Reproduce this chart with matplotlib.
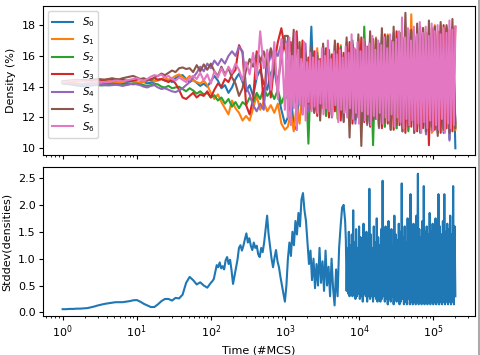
import matplotlib.pyplot as plt
import numpy as np

OUTPUT_FILE = 'out.png'

# Time grid bounds (#MCS): smooth early part, dense oscillating late part
T_START, T_MID, T_SPLIT, T_DENSE, T_END = 1, 100, 1000, 6500, 2e5

LABELS = ['$S_0$', '$S_1$', '$S_2$', '$S_3$', '$S_4$', '$S_5$', '$S_6$']

S0_EARLY = [
    14.3, 14.25, 14.2, 14.12, 14.08, 14.05, 14.04, 14.05, 14.07, 14.1,
    14.12, 14.15, 14.18, 14.2, 14.22, 14.2, 14.18, 14.22, 14.25, 14.2,
    14.15, 14.2, 14.28, 14.3, 14.22, 14.25, 14.35, 14.45, 14.5, 14.4,
    14.45, 14.3, 14.55, 14.7, 14.75, 14.5, 14.3, 14.45, 14.25, 14.05,
    14.2, 14.0, 14.35, 14.7, 14.4, 13.9, 14.1, 13.6, 13.95, 14.5,
    14.85, 14.3, 13.7, 14.1, 13.4, 14.6, 15.1, 14.2, 13.8, 14.9,
    15.2, 13.6, 12.5, 11.6,
]
S0_LATE = [
    12.0, 13.5, 11.5, 11.2, 14.5, 12.8, 15.6, 13.0, 17.9, 12.5,
    15.8, 12.9, 16.0, 12.6, 15.5, 12.4, 16.1, 12.8, 15.7, 12.2,
    16.4, 12.0, 15.9, 11.8, 16.6, 12.3, 16.2, 11.7, 16.9, 12.1,
    16.5, 11.5, 17.0, 12.0, 16.7, 11.4, 17.3, 11.8, 16.9, 11.3,
    17.2, 11.6, 17.5, 11.2, 17.0, 11.5, 17.6, 11.0, 17.3, 11.4,
    17.7, 11.2, 17.4, 11.0, 17.8, 10.6, 17.6, 10.0,
]

S1_EARLY = [
    14.3, 14.3, 14.28, 14.25, 14.22, 14.2, 14.18, 14.2, 14.22, 14.25,
    14.28, 14.3, 14.32, 14.35, 14.3, 14.28, 14.25, 14.3, 14.35, 14.4,
    14.35, 14.3, 14.25, 14.3, 14.4, 14.45, 14.35, 14.4, 14.5, 14.6,
    14.45, 14.55, 14.7, 14.8, 14.6, 14.45, 14.7, 14.4, 14.3, 14.2,
    14.4, 14.1, 13.6, 13.2, 13.5, 13.0, 12.6, 12.2, 13.1, 12.6,
    12.3, 11.8, 12.1, 11.8, 12.6, 13.4, 12.5, 13.0, 12.4, 12.8,
    12.3, 12.9, 11.6, 11.2,
]
S1_LATE = [
    11.4, 12.3, 11.1, 12.8, 11.6, 14.2, 16.3, 12.9, 15.8, 12.3,
    16.5, 12.7, 15.9, 12.1, 16.2, 12.6, 16.0, 11.9, 16.7, 12.4,
    16.1, 11.8, 16.8, 12.2, 16.4, 11.6, 17.1, 12.0, 16.6, 11.7,
    17.2, 11.9, 16.8, 11.4, 17.4, 11.8, 17.0, 11.3, 17.5, 11.6,
    17.1, 11.2, 18.7, 11.5, 17.3, 11.1, 17.8, 11.4, 17.5, 11.0,
    18.0, 11.3, 17.6, 11.1, 17.9, 11.4, 17.7, 11.2,
]

S2_EARLY = [
    14.2, 14.18, 14.15, 14.12, 14.1, 14.1, 14.12, 14.15, 14.15, 14.12,
    14.1, 14.08, 14.1, 14.15, 14.2, 14.18, 14.15, 14.1, 14.12, 14.18,
    14.22, 14.2, 14.15, 14.1, 14.05, 14.1, 14.2, 14.15, 14.0, 13.95,
    14.05, 13.9, 13.95, 14.0, 13.85, 13.7, 13.9, 13.75, 13.55, 13.7,
    13.5, 13.6, 13.3, 13.45, 13.1, 13.3, 12.9, 13.2, 12.7, 13.0,
    12.6, 13.0, 12.8, 13.3, 13.0, 13.6, 13.2, 13.9, 13.4, 13.7,
    13.2, 13.8, 12.9, 13.5,
]
S2_LATE = [
    13.2, 12.6, 13.8, 12.9, 14.6, 12.2, 15.4, 10.3, 15.9, 12.4,
    16.2, 12.8, 15.6, 12.1, 16.4, 12.6, 15.8, 11.9, 16.6, 12.3,
    16.0, 11.7, 17.0, 12.2, 16.5, 11.5, 17.9, 11.8, 16.8, 10.2,
    17.1, 11.9, 16.7, 11.4, 17.3, 11.7, 17.0, 11.3, 17.5, 11.6,
    17.2, 11.1, 17.6, 11.5, 17.4, 11.0, 17.8, 11.4, 17.5, 11.2,
    17.9, 11.0, 17.6, 11.3, 17.8, 11.1, 17.5, 11.4,
]

S3_EARLY = [
    14.3, 14.32, 14.35, 14.38, 14.4, 14.42, 14.45, 14.42, 14.4, 14.38,
    14.4, 14.42, 14.45, 14.48, 14.45, 14.4, 14.42, 14.45, 14.4, 14.35,
    14.4, 14.45, 14.5, 14.45, 14.4, 14.5, 14.55, 14.45, 14.5, 14.4,
    14.3, 14.45, 14.2, 13.8, 13.3, 13.2, 13.4, 13.6, 13.3, 13.5,
    13.4, 13.7, 13.3, 13.8, 14.2, 14.0, 14.5, 14.3, 14.8, 15.1,
    16.7, 16.2, 12.8, 12.2, 13.2, 16.3, 15.8, 12.9, 16.2, 13.3,
    15.5, 16.9, 17.8, 16.5,
]
S3_LATE = [
    15.8, 16.9, 13.3, 17.6, 14.0, 17.0, 12.7, 15.9, 12.5, 16.3,
    12.1, 15.8, 12.6, 16.5, 12.0, 16.1, 12.4, 16.8, 11.8, 16.2,
    12.3, 16.9, 11.6, 16.4, 12.0, 17.2, 11.7, 16.6, 11.4, 17.1,
    11.9, 16.8, 11.3, 17.4, 11.6, 17.0, 11.2, 17.6, 11.5, 17.2,
    11.0, 17.7, 11.4, 17.3, 11.1, 17.9, 11.3, 17.5, 10.2, 17.8,
    11.2, 17.6, 11.0, 18.0, 11.3, 17.7, 11.1, 17.9,
]

S4_EARLY = [
    14.25, 14.22, 14.2, 14.18, 14.15, 14.12, 14.1, 14.12, 14.15, 14.18,
    14.15, 14.12, 14.1, 14.08, 14.1, 14.12, 14.1, 14.05, 14.1, 14.15,
    14.2, 14.15, 14.1, 14.0, 13.95, 14.05, 14.1, 13.95, 13.85, 13.9,
    13.8, 13.7, 13.65, 13.75, 13.9, 14.1, 14.3, 14.6, 14.9, 15.3,
    15.0, 15.5, 15.2, 15.7, 15.4, 15.8, 15.5, 16.0, 16.3, 16.0,
    16.6, 16.3, 14.0, 13.5, 12.8, 12.4, 12.9, 12.5, 15.3, 16.0,
    16.4, 16.0, 16.8, 17.1,
]
S4_LATE = [
    16.5, 13.8, 17.0, 12.6, 16.2, 13.2, 16.8, 12.4, 16.0, 12.8,
    15.9, 12.2, 16.6, 12.7, 16.1, 12.0, 16.7, 12.5, 16.3, 11.8,
    16.9, 12.3, 16.4, 11.6, 17.1, 12.1, 16.6, 11.5, 17.2, 11.9,
    16.8, 11.3, 17.4, 11.7, 17.0, 11.2, 17.5, 11.6, 17.1, 11.1,
    17.6, 11.4, 17.3, 11.0, 17.8, 11.3, 17.5, 10.9, 17.9, 11.2,
    17.6, 11.0, 18.0, 11.3, 17.7, 10.5, 17.9, 11.6,
]

S5_EARLY = [
    14.35, 14.38, 14.4, 14.42, 14.45, 14.42, 14.4, 14.42, 14.45, 14.48,
    14.5, 14.48, 14.45, 14.5, 14.55, 14.5, 14.48, 14.55, 14.6, 14.65,
    14.7, 14.6, 14.5, 14.55, 14.45, 14.4, 14.6, 14.7, 14.85, 14.75,
    14.9, 15.05, 14.95, 15.2, 15.25, 15.15, 15.2, 14.95, 15.4, 15.0,
    15.45, 15.1, 15.5, 15.0, 14.7, 15.3, 14.8, 15.2, 14.6, 14.2,
    13.4, 13.9, 15.1, 15.8, 15.3, 16.1, 15.6, 16.3, 15.4, 16.5,
    15.2, 14.3, 15.8, 17.3,
]
S5_LATE = [
    17.3, 14.5, 17.7, 13.0, 16.9, 12.5, 16.1, 12.9, 16.6, 12.3,
    16.0, 11.8, 16.8, 12.6, 16.3, 12.1, 17.0, 12.4, 16.5, 11.7,
    17.2, 10.7, 16.7, 11.9, 17.4, 10.15, 16.9, 11.6, 17.6, 11.8,
    17.1, 11.4, 17.8, 11.7, 17.3, 11.2, 17.9, 11.5, 17.5, 11.1,
    18.8, 11.4, 17.7, 11.0, 18.1, 11.3, 17.8, 11.1, 18.3, 11.4,
    17.9, 10.8, 18.2, 11.2, 18.0, 11.0, 18.4, 11.3,
]

S6_EARLY = [
    14.3, 14.32, 14.35, 14.38, 14.4, 14.38, 14.35, 14.33, 14.3, 14.32,
    14.35, 14.3, 14.28, 14.3, 14.35, 14.4, 14.38, 14.35, 14.4, 14.45,
    14.5, 14.55, 14.45, 14.4, 14.5, 14.65, 14.75, 14.7, 14.78, 14.6,
    14.7, 14.5, 14.4, 14.6, 14.45, 14.3, 14.55, 14.7, 14.5, 14.9,
    14.4, 14.8, 14.2, 15.0, 14.6, 15.2, 14.7, 15.3, 14.9, 15.5,
    15.1, 14.4, 15.6, 14.8, 16.2, 14.5, 17.6, 15.2, 16.4, 13.8,
    16.9, 13.2, 17.1, 12.5,
]
S6_LATE = [
    16.8, 12.0, 17.2, 11.5, 16.0, 12.6, 17.5, 11.2, 16.4, 12.8,
    15.8, 12.2, 16.9, 11.8, 15.6, 13.0, 16.2, 12.4, 15.9, 12.7,
    16.3, 12.3, 15.7, 12.9, 16.5, 12.2, 16.0, 12.6, 17.0, 12.4,
    15.8, 12.1, 16.3, 12.8, 16.1, 11.7, 16.4, 12.5, 15.9, 12.3,
    16.6, 12.0, 16.2, 12.6, 17.4, 11.9, 16.5, 12.3, 16.9, 11.6,
    16.3, 12.4, 17.1, 11.8, 16.6, 12.2, 16.8, 11.5, 17.3, 12.1,
    16.4, 11.9, 17.0, 12.3, 16.7, 11.6, 17.2, 12.0, 16.5, 11.8,
    17.4, 12.2, 16.9, 11.4, 17.1, 12.0, 17.6, 11.7, 18.5, 11.3,
    17.2, 11.9, 17.8, 11.5, 17.0, 11.8, 17.9, 11.2, 17.4, 11.6,
    18.2, 11.0, 17.5, 11.7, 17.9, 11.3, 17.3, 11.8, 18.1, 11.1,
    17.6, 11.5, 18.0, 11.2, 17.4, 11.9, 17.8, 11.0, 17.5, 11.6,
    18.3, 11.3, 17.7, 11.5, 17.9,
]

# stddev: 1..100, 100..1000, 1000..6500, 6500..2e5 (densest)
STDDEV_EARLY = [
    0.06, 0.06, 0.065, 0.065, 0.07, 0.07, 0.075, 0.08, 0.095, 0.11,
    0.13, 0.145, 0.16, 0.17, 0.18, 0.19, 0.19, 0.19, 0.2, 0.21,
    0.225, 0.23, 0.2, 0.16, 0.13, 0.1, 0.1, 0.15, 0.21, 0.25,
    0.25, 0.22, 0.27, 0.26, 0.33, 0.55, 0.66, 0.6, 0.52, 0.56,
    0.5, 0.46, 0.55,
]
STDDEV_MID = [
    0.58, 0.62, 0.75, 0.88, 0.84, 0.93, 0.82, 0.86, 0.8, 0.97,
    1.03, 0.9, 0.98, 0.78, 0.53, 0.68, 0.84, 0.98, 1.2, 1.25,
    1.15, 1.24, 1.36, 1.47, 1.3, 1.38, 1.24, 1.16, 1.3, 1.2,
    1.24, 1.08, 1.03, 1.2, 1.12, 1.3, 1.55, 1.8, 1.45, 1.22,
    1.0, 0.84, 1.02, 1.16, 0.95, 0.84, 0.66, 0.5, 0.35, 0.2,
]
STDDEV_LATE = [
    0.5, 1.0, 1.3, 1.05, 1.5, 1.25, 1.7, 1.45, 1.85, 1.6,
    2.1, 2.22, 1.9, 1.7, 1.3, 0.9, 1.15, 0.6, 1.0, 0.45,
    0.9, 0.5, 1.2, 0.55, 0.95, 0.4, 1.15, 0.5, 0.85, 0.3,
    1.0, 0.45, 0.13, 0.8, 0.3, 1.2, 1.6, 1.95, 2.0, 1.7,
]
STDDEV_DENSE = [
    1.35, 0.4, 1.2, 0.35, 1.5, 0.3, 1.25, 0.4, 1.45, 0.3,
    1.9, 0.35, 1.3, 0.25, 1.55, 0.3, 1.2, 0.35, 1.6, 0.25,
    1.4, 0.3, 1.3, 0.2, 1.65, 0.35, 1.25, 0.3, 1.5, 0.2,
    1.35, 0.3, 2.3, 0.25, 1.45, 0.3, 1.2, 0.2, 1.6, 0.3,
    1.3, 0.25, 1.75, 0.2, 1.4, 0.3, 1.25, 0.2, 1.55, 0.25,
    2.45, 0.3, 1.35, 0.2, 1.6, 0.25, 1.3, 0.15, 1.7, 0.25,
    1.4, 0.2, 1.55, 0.3, 1.25, 0.15, 1.8, 0.25, 1.45, 0.2,
    1.35, 0.25, 1.65, 0.15, 1.5, 0.2, 2.4, 0.25, 1.4, 0.15,
    1.6, 0.2, 1.3, 0.15, 1.75, 0.25, 1.45, 0.15, 2.2, 0.2,
    1.5, 0.15, 1.65, 0.2, 1.35, 0.15, 1.8, 0.2, 2.58, 0.15,
    1.55, 0.2, 1.4, 0.15, 1.7, 0.2, 2.35, 0.15, 1.5, 0.2,
    1.6, 0.15, 1.45, 0.2, 1.85, 0.15, 1.5, 0.2, 1.65, 0.15,
    1.4, 0.2, 1.75, 0.15, 1.55, 0.2, 2.2, 0.15, 1.6, 0.2,
    1.45, 0.15, 1.7, 0.2, 2.2, 0.15, 1.5, 0.2, 1.65, 0.15,
    1.55, 0.2, 1.8, 0.15, 1.45, 0.2, 2.35, 0.15, 1.6, 0.3,
]

SERIES = [
    (S0_EARLY, S0_LATE), (S1_EARLY, S1_LATE), (S2_EARLY, S2_LATE),
    (S3_EARLY, S3_LATE), (S4_EARLY, S4_LATE), (S5_EARLY, S5_LATE),
    (S6_EARLY, S6_LATE),
]


def with_time(bounds, *parts):
    # each part is sampled log-evenly between consecutive bounds
    times = [np.geomspace(bounds[0], bounds[1], len(parts[0]))]
    for (lo, hi), part in zip(zip(bounds[1:], bounds[2:]), parts[1:]):
        times.append(np.geomspace(lo, hi, len(part) + 1)[1:])
    return np.concatenate(times), np.concatenate(parts)


plt.rcParams.update({
    'font.size': 8,
    'legend.fontsize': 7.5,
    'legend.labelspacing': 0.35,
    'xtick.major.size': 2.8, 'ytick.major.size': 2.8,
    'xtick.minor.size': 1.6, 'ytick.minor.size': 1.6,
    'xtick.major.pad': 2.6, 'ytick.major.pad': 2.6,
})

fig, (ax1, ax2) = plt.subplots(2, 1, sharex=True, figsize=(4.8, 3.55))
fig.subplots_adjust(left=0.0896, right=0.9896, top=0.983, bottom=0.11,
                    hspace=0.08)

for label, (early, late) in zip(LABELS, SERIES):
    t, v = with_time([T_START, T_SPLIT, T_END], early, late)
    ax1.plot(t, v, label=label)
ax1.set_xscale('log')
ax1.set_ylabel('Density (%)')
ax1.set_yticks([10, 12, 14, 16, 18])
ax1.legend(loc='upper left')

t, v = with_time([T_START, T_MID, T_SPLIT, T_DENSE, T_END],
                 STDDEV_EARLY, STDDEV_MID, STDDEV_LATE, STDDEV_DENSE)
ax2.plot(t, v)
ax2.set_xscale('log')
ax2.set_xlabel('Time (#MCS)')
ax2.set_ylabel('Stddev(densities)')

# light frame edge at the right of the original screenshot
fig.add_artist(plt.Line2D([0.9969, 0.9969], [0, 1], color='#aaaaaa', lw=1.5))

plt.savefig(OUTPUT_FILE, dpi=100)
